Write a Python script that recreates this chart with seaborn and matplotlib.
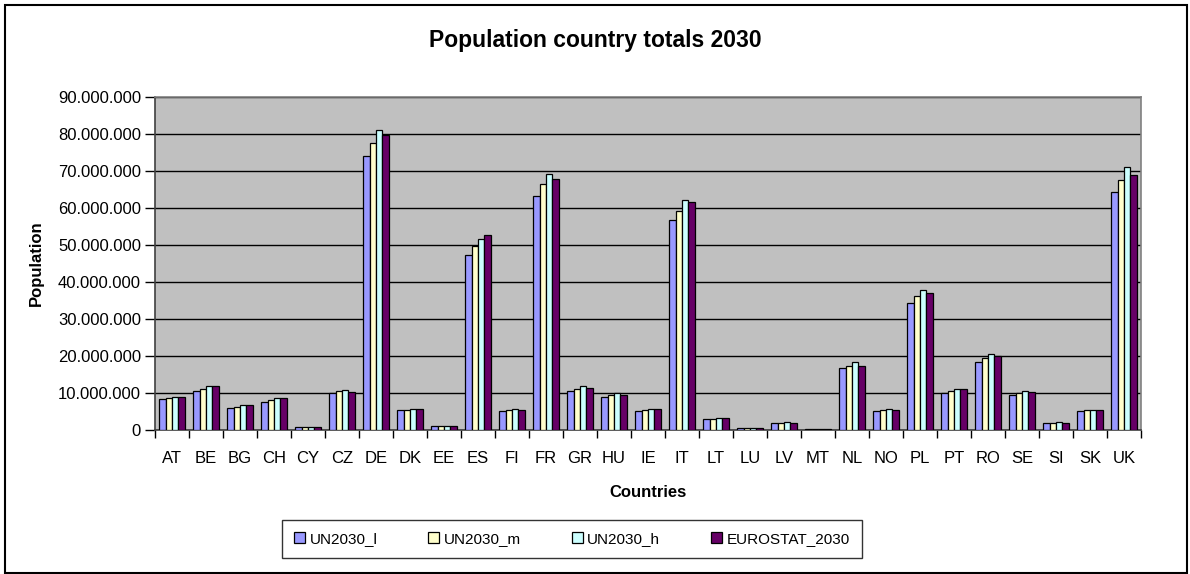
import matplotlib
matplotlib.use("Agg")
import matplotlib.pyplot as plt
import matplotlib.ticker as mticker
from matplotlib.patches import Rectangle, Patch
import seaborn as sns
import pandas as pd
import numpy as np

countries = ["AT", "BE", "BG", "CH", "CY", "CZ", "DE", "DK", "EE", "ES", "FI", "FR", "GR", "HU", "IE",
             "IT", "LT", "LU", "LV", "MT", "NL", "NO", "PL", "PT", "RO", "SE", "SI", "SK", "UK"]
un_l = [8.3, 10.5, 6.0, 7.65, 0.8, 9.9, 74.1, 5.4, 1.2, 47.4, 5.1, 63.2, 10.5, 8.9, 5.1,
        56.8, 2.9, 0.55, 1.9, 0.4, 16.65, 5.1, 34.3, 9.9, 18.5, 9.5, 1.9, 5.1, 64.4]
un_m = [8.6, 11.2, 6.3, 8.0, 0.85, 10.5, 77.7, 5.4, 1.2, 49.7, 5.4, 66.4, 11.2, 9.5, 5.4,
        59.3, 2.9, 0.55, 1.9, 0.4, 17.3, 5.4, 36.2, 10.5, 19.5, 9.9, 1.9, 5.4, 67.7]
un_h = [8.9, 11.8, 6.7, 8.6, 0.9, 10.9, 81.2, 5.8, 1.2, 51.6, 5.8, 69.3, 11.8, 9.9, 5.8,
        62.2, 3.15, 0.6, 2.25, 0.4, 18.3, 5.8, 37.8, 11.2, 20.5, 10.5, 2.25, 5.4, 71.2]
eurostat = [8.9, 11.8, 6.7, 8.6, 0.85, 10.3, 79.8, 5.8, 1.2, 52.6, 5.4, 67.8, 11.4, 9.5, 5.8,
            61.6, 3.15, 0.55, 1.9, 0.4, 17.3, 5.4, 36.9, 11.2, 19.9, 10.2, 1.9, 5.4, 68.9]
series_names = ["UN2030_l", "UN2030_m", "UN2030_h", "EUROSTAT_2030"]
colors = ["#9999FF", "#FFFFCC", "#CCFFFF", "#660066"]

rows = []
for name, vals in zip(series_names, [un_l, un_m, un_h, eurostat]):
    for c, v in zip(countries, vals):
        rows.append({"Country": c, "Series": name, "Population": v * 1e6})
df = pd.DataFrame(rows)

sns.set_theme(style="white")
plt.rcParams["font.family"] = ["Liberation Sans", "DejaVu Sans"]
plt.rcParams["text.color"] = "black"
plt.rcParams["axes.labelcolor"] = "black"
plt.rcParams["xtick.color"] = "black"
plt.rcParams["ytick.color"] = "black"

fig = plt.figure(figsize=(11.9, 5.74), dpi=100)
W, H = 1190, 574
L, R, T, B = 155, 1141, 97, 430
ax = fig.add_axes([L / W, 1 - B / H, (R - L) / W, (B - T) / H])
ax.set_facecolor("#C0C0C0")

sns.barplot(data=df, x="Country", y="Population", hue="Series", order=countries,
            hue_order=series_names, palette=colors, width=0.75, edgecolor="black",
            linewidth=0.9, saturation=1, ax=ax, legend=False, zorder=3)

ax.set_ylim(0, 90e6)
ax.set_xlim(-0.5, len(countries) - 0.5)
ax.yaxis.set_major_locator(mticker.MultipleLocator(10e6))
ax.yaxis.set_major_formatter(mticker.FuncFormatter(lambda v, p: f"{int(round(v)):,}".replace(",", ".")))
ax.grid(axis="y", color="black", linewidth=1.0, zorder=1)
ax.set_axisbelow(True)

# category boundary ticks, labels at centres
ax.set_xticks(np.arange(-0.5, len(countries), 1.0))
ax.set_xticklabels([])
ax.set_xticks(np.arange(len(countries)), minor=True)
ax.set_xticklabels(countries, minor=True, fontsize=12)
ax.tick_params(axis="x", which="major", length=6, width=1, color="black", direction="out", bottom=True)
ax.tick_params(axis="x", which="minor", length=0, pad=15, labelcolor="black")
ax.tick_params(axis="y", length=7, width=1, color="black", direction="out", left=True, labelsize=12,
               pad=3, labelcolor="black")

for s in ["top", "right"]:
    ax.spines[s].set_color("#808080")
    ax.spines[s].set_linewidth(1.2)
for s in ["left", "bottom"]:
    ax.spines[s].set_color("#404040")
    ax.spines[s].set_linewidth(1.2)

ax.set_xlabel("Countries", fontsize=12, fontweight="bold", labelpad=14, color="black")
ax.set_ylabel("Population", fontsize=12, fontweight="bold", color="black")
ax.yaxis.set_label_coords((44 - L) / (R - L), 0.5)

fig.text(0.5, 1 - 40 / H, "Population country totals 2030", ha="center", va="center",
         fontsize=16.5, fontweight="bold", color="black")

handles = [Patch(facecolor=c, edgecolor="black", linewidth=0.9) for c in colors]
leg = fig.legend(handles, series_names, loc="center", ncol=4, mode="expand",
                 bbox_to_anchor=(282 / W, 1 - 565 / H, (862 - 282) / W, 52 / H),
                 fontsize=11, frameon=True, fancybox=False, handlelength=0.7, handleheight=0.7,
                 handletextpad=0.3, borderaxespad=0, borderpad=0.8, labelcolor="black")
leg.get_frame().set_edgecolor("black")
leg.get_frame().set_linewidth(1.0)

fig.patches.append(Rectangle((5 / W, 1 / H), (1187 - 5) / W, 568 / H, transform=fig.transFigure,
                             fill=False, edgecolor="black", linewidth=1.5))

fig.savefig("out.png", dpi=100, facecolor="white")
